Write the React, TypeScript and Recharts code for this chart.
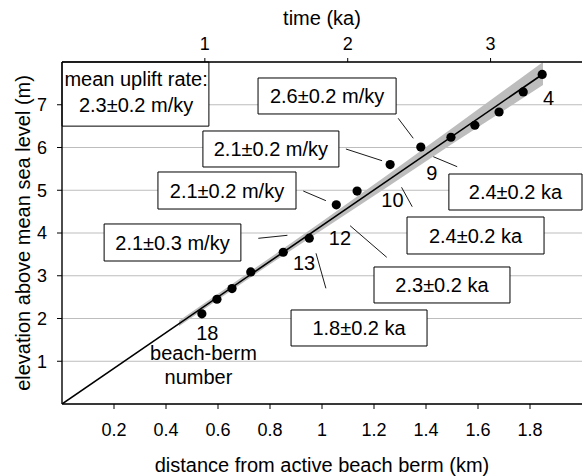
import React from 'react';
import {
  ComposedChart,
  XAxis,
  YAxis,
  CartesianGrid,
  Scatter,
  Line,
  Area,
  ReferenceArea,
  ReferenceLine,
  ReferenceDot,
} from 'recharts';

// ---- data ----
const BERM_DISTANCE_KM = [0.538, 0.596, 0.654, 0.726, 0.851, 0.951, 1.055, 1.135, 1.262, 1.38, 1.496, 1.588, 1.681, 1.774, 1.847];
const BERM_ELEVATION_M = [2.11, 2.45, 2.7, 3.09, 3.55, 3.88, 4.66, 4.98, 5.6, 6.01, 6.24, 6.52, 6.83, 7.3, 7.71];

const FIT_KM = [0, 1.85];
const FIT_M = [0, 7.72];

const BAND_KM = [0.45, 0.8, 1.0, 1.25, 1.5, 1.85];
const BAND_LOW = [1.82, 3.27, 4.07, 5.07, 6.08, 7.46];
const BAND_HIGH = [1.95, 3.42, 4.27, 5.35, 6.45, 8.0];

const X_TICKS = [0.2, 0.4, 0.6, 0.8, 1, 1.2, 1.4, 1.6, 1.8];
const Y_TICKS = [1, 2, 3, 4, 5, 6, 7];
const TIME_TICKS_KA = [1, 2, 3];
const KM_DOMAIN: [number, number] = [0, 2];
const M_DOMAIN: [number, number] = [0, 8];
const KA_AT_RIGHT_EDGE = 3.64; // time-axis value at the right edge of the plot (2 km)

// annotation boxes (data units)
const BOXES = [
  { x1: 0, x2: 0.565, y1: 6.5, y2: 8.0, text: '' },
  { x1: 0.754, x2: 1.285, y1: 6.784, y2: 7.626, text: '2.6±0.2 m/ky' },
  { x1: 0.542, x2: 1.065, y1: 5.544, y2: 6.386, text: '2.1±0.2 m/ky' },
  { x1: 0.369, x2: 0.9, y1: 4.561, y2: 5.427, text: '2.1±0.2 m/ky' },
  { x1: 0.162, x2: 0.688, y1: 3.345, y2: 4.211, text: '2.1±0.3 m/ky' },
  { x1: 1.488, x2: 2.0, y1: 4.538, y2: 5.38, text: '2.4±0.2 ka' },
  { x1: 1.327, x2: 1.854, y1: 3.509, y2: 4.374, text: '2.4±0.2 ka' },
  { x1: 1.2, x2: 1.723, y1: 2.363, y2: 3.205, text: '2.3±0.2 ka' },
  { x1: 0.881, x2: 1.404, y1: 1.357, y2: 2.199, text: '1.8±0.2 ka' },
];

const LEADERS = [
  [1.293, 6.683, 1.351, 6.215],
  [1.092, 5.965, 1.231, 5.691],
  [0.928, 4.982, 1.015, 4.756],
  [0.755, 3.876, 0.867, 3.946],
  [1.428, 5.785, 1.52, 5.551],
  [1.306, 5.069, 1.347, 4.615],
  [1.108, 4.171, 1.249, 3.432],
  [0.977, 3.525, 1.015, 2.706],
];

const TEXTS = [
  { x: 0.285, y: 7.6, text: 'mean uplift rate:' },
  { x: 0.285, y: 6.99, text: '2.3±0.2 m/ky' },
  { x: 1.871, y: 7.165, text: '4' },
  { x: 1.422, y: 5.41, text: '9' },
  { x: 1.271, y: 4.77, text: '10' },
  { x: 1.069, y: 3.876, text: '12' },
  { x: 0.931, y: 3.29, text: '13' },
  { x: 0.559, y: 1.66, text: '18' },
  { x: 0.544, y: 1.193, text: 'beach-berm' },
  { x: 0.525, y: 0.632, text: 'number' },
];

const FONT = '"Liberation Sans", Arial, Helvetica, sans-serif';
const ANN = 20;

const points = BERM_DISTANCE_KM.map((km, i) => ({ km, m: BERM_ELEVATION_M[i] }));
const fit = FIT_KM.map((km, i) => ({ km, m: FIT_M[i] }));
const band = BAND_KM.map((km, i) => ({ km, band: [BAND_LOW[i], BAND_HIGH[i]] }));

const kmPerKa = KM_DOMAIN[1] / KA_AT_RIGHT_EDGE;
const timeTicksKm = TIME_TICKS_KA.map((t) => t * kmPerKa);

const fmt = (v: number) => String(Number(v.toFixed(1)));
const fmtKa = (v: number) => String(Math.round(v / kmPerKa));

const Dot = (props: any) => {
  const { cx, cy } = props;
  return <circle cx={cx} cy={cy} r={4.6} fill="#000" />;
};

const YTitle = (props: any) => {
  const vb = props.viewBox || { x: 0, y: 62, width: 62, height: 342 };
  const x = vb.x + 30;
  const y = vb.y + vb.height / 2;
  return (
    <text x={x} y={y} transform={`rotate(-90, ${x}, ${y})`} textAnchor="middle" fontSize={20} fill="#000" fontFamily={FONT}>
      elevation above mean sea level (m)
    </text>
  );
};

export default function App() {
  const tickStyle = { fontSize: 18, fill: '#000', fontFamily: FONT };
  return (
    <div style={{ position: 'absolute', left: 0, top: 0, background: '#fff', fontFamily: FONT }}>
      <ComposedChart width={583} height={476} data={band} margin={{ top: 0, right: 1, bottom: 0, left: 0 }}>
        <CartesianGrid xAxisId="km" yAxisId="m" vertical={false} stroke="#bdbdbd" strokeWidth={1} />
        <XAxis
          xAxisId="km"
          dataKey="km"
          type="number"
          domain={KM_DOMAIN}
          allowDataOverflow
          ticks={X_TICKS}
          tickFormatter={fmt}
          height={72}
          tickSize={5}
          tickMargin={14}
          tick={tickStyle}
          stroke="#000"
          axisLine={{ stroke: '#000', strokeWidth: 1.4 }}
          tickLine={{ stroke: '#000' }}
          interval={0}
          label={{ value: 'distance from active beach berm (km)', position: 'insideBottom', offset: 4, fontSize: 20, fill: '#000', fontFamily: FONT }}
        />
        <XAxis
          xAxisId="ka"
          dataKey="km"
          orientation="top"
          type="number"
          domain={KM_DOMAIN}
          allowDataOverflow
          ticks={timeTicksKm}
          tickFormatter={fmtKa}
          height={62}
          tickSize={4}
          tickMargin={8}
          tick={tickStyle}
          stroke="#000"
          axisLine={{ stroke: '#000', strokeWidth: 1.4 }}
          tickLine={{ stroke: '#000' }}
          interval={0}
          label={{ value: 'time (ka)', position: 'insideTop', offset: 11, fontSize: 20, fill: '#000', fontFamily: FONT }}
        />
        <YAxis
          yAxisId="m"
          type="number"
          domain={M_DOMAIN}
          allowDataOverflow
          ticks={Y_TICKS}
          width={62}
          tickSize={5}
          tickMargin={10}
          tick={tickStyle}
          stroke="#000"
          axisLine={{ stroke: '#000', strokeWidth: 1.4 }}
          tickLine={{ stroke: '#000' }}
          interval={0}
          label={<YTitle />}
        />

        {BOXES.map((b, i) => (
          <ReferenceArea
            key={'box' + i}
            xAxisId="km"
            yAxisId="m"
            x1={b.x1}
            x2={b.x2}
            y1={b.y1}
            y2={b.y2}
            fill="#fff"
            fillOpacity={1}
            stroke="#000"
            strokeWidth={1}
            ifOverflow="visible"
            label={b.text ? { value: b.text, position: 'center', fontSize: ANN, fill: '#000', fontFamily: FONT } : undefined}
          />
        ))}
        {LEADERS.map((l, i) => (
          <ReferenceLine
            key={'ld' + i}
            xAxisId="km"
            yAxisId="m"
            segment={[{ x: l[0], y: l[1] }, { x: l[2], y: l[3] }]}
            stroke="#000"
            strokeWidth={0.9}
            ifOverflow="visible"
          />
        ))}
        {TEXTS.map((t, i) => (
          <ReferenceDot
            key={'tx' + i}
            xAxisId="km"
            yAxisId="m"
            x={t.x}
            y={t.y}
            r={0}
            fill="none"
            stroke="none"
            ifOverflow="visible"
            label={{ value: t.text, position: 'center', fontSize: ANN, fill: '#000', fontFamily: FONT }}
          />
        ))}

        <Area
          xAxisId="km"
          yAxisId="m"
          dataKey="band"
          type="linear"
          fill="#bdbdbd"
          fillOpacity={1}
          stroke="none"
          isAnimationActive={false}
        />
        <Line
          xAxisId="km"
          yAxisId="m"
          data={fit}
          dataKey="m"
          type="linear"
          stroke="#000"
          strokeWidth={1.6}
          dot={false}
          activeDot={false}
          isAnimationActive={false}
        />
        <Scatter
          xAxisId="km"
          yAxisId="m"
          data={points}
          dataKey="m"
          shape={<Dot />}
          isAnimationActive={false}
        />
      </ComposedChart>
    </div>
  );
}
